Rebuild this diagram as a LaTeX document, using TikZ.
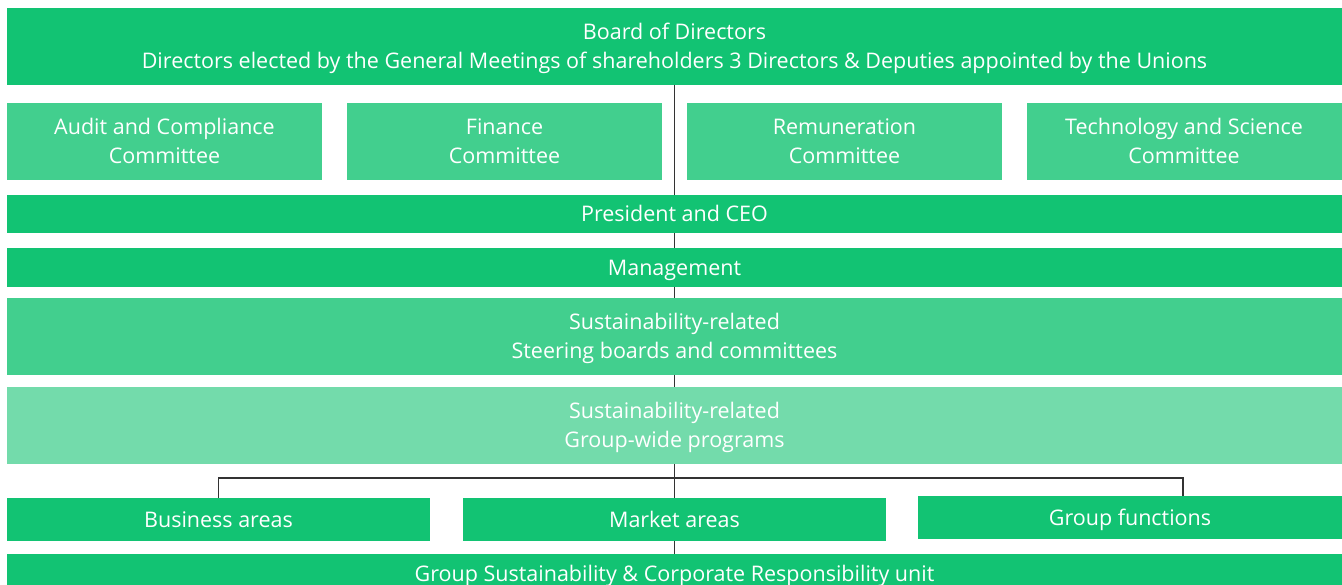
\documentclass[tikz,border=0pt]{standalone}
\usepackage{fontspec}
\setmainfont{Open Sans}
\usetikzlibrary{positioning}
\definecolor{egreen}{RGB}{18,195,115}
\definecolor{elight}{RGB}{66,207,142}
\definecolor{epale}{RGB}{115,219,171}
\definecolor{eline}{RGB}{51,51,51}

\begin{document}
\begin{tikzpicture}[x=1pt, y=-1pt,
    box/.style={rectangle, fill=egreen, text=white, align=center, inner sep=0pt,
        font=\fontsize{21.5}{29}\selectfont},
    wide/.style={box, minimum width=1335pt},
    single/.style={text height=19.5pt, text depth=4pt},
    double/.style={text height=48pt, text depth=4pt},
    committee/.style={box, double, fill=elight, minimum width=315pt, minimum height=77pt},
    unit/.style={box, single, minimum width=423pt, minimum height=43pt},
    link/.style={draw=eline, line width=1.5pt}]
    \useasboundingbox (0,0) rectangle (1342,585);

    \node[wide, double, minimum height=77pt] (board) at (674.5, 46.5) {Board of Directors\\Directors elected by the General Meetings of shareholders 3 Directors \& Deputies appointed by the Unions};
    \node[committee] (audit)   at (164.5, 141.5) {Audit and Compliance\\Committee};
    \node[committee] (finance) at (504.5, 141.5) {Finance\\Committee};
    \node[committee] (remun)   at (844.5, 141.5) {Remuneration\\Committee};
    \node[committee] (techsci) at (1184, 141.5) {Technology and Science\\Committee};
    \node[wide, single, minimum height=38pt] (ceo)   at (674.5, 214) {President and CEO};
    \node[wide, single, minimum height=39pt] (mgmt)  at (674.5, 267.5) {Management};
    \node[wide, double, fill=elight, minimum height=77pt] (steer) at (674.5, 336.5) {Sustainability-related\\Steering boards and committees};
    \node[wide, double, fill=epale, minimum height=77pt]  (prog)  at (674.5, 425.5) {Sustainability-related\\Group-wide programs};
    \node[unit] (business)  at (218.5, 519.5) {Business areas};
    \node[unit] (market)    at (674.5, 519.5) {Market areas};
    \node[unit, minimum width=424pt] (functions) at (1130, 517.5) {Group functions};
    \node[wide, single, minimum height=40pt] (gscr) at (674.5, 574) {Group Sustainability \& Corporate Responsibility unit};
    \coordinate (fnjoin) at (1183, 478);

    \draw[link] (board) -- (ceo);
    \draw[link] (ceo) -- (mgmt);
    \draw[link] (mgmt) -- (steer);
    \draw[link] (steer) -- (prog);
    \draw[link] (prog) -- (market);
    \draw[link] (market) -- (gscr);
    \draw[link] (business.north) |- (fnjoin) -- (fnjoin |- functions.north);
\end{tikzpicture}
\end{document}
